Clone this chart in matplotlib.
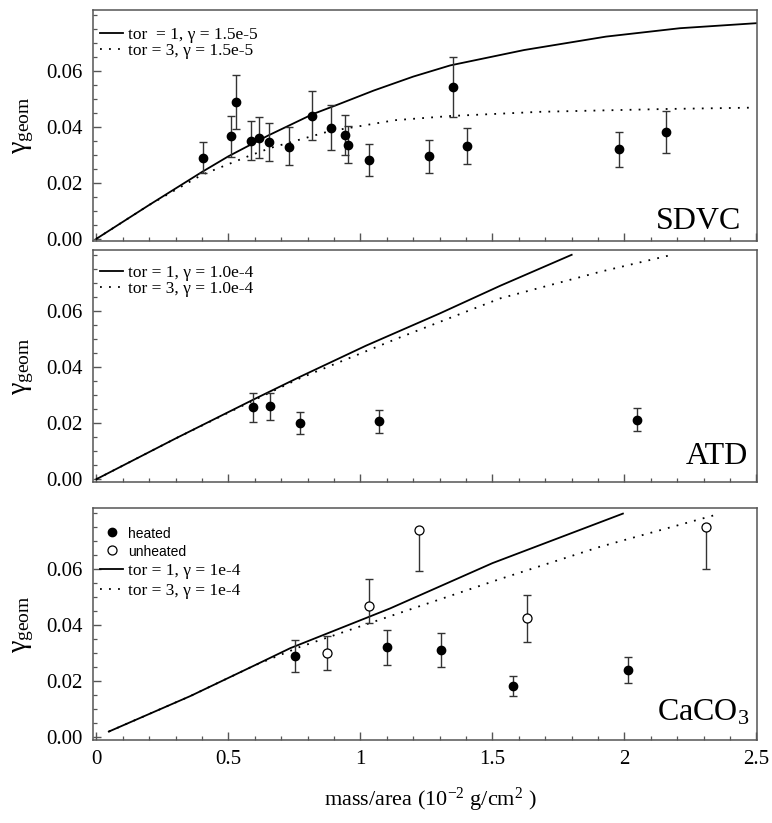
import matplotlib
matplotlib.use("Agg")
import matplotlib.pyplot as plt
import numpy as np
from matplotlib.ticker import MultipleLocator, FixedLocator

plt.rcParams['font.family'] = ['Liberation Serif', 'DejaVu Serif']
plt.rcParams['mathtext.fontset'] = 'custom'
plt.rcParams['mathtext.rm'] = 'Liberation Serif'
plt.rcParams['mathtext.it'] = 'Liberation Serif:italic'
plt.rcParams['mathtext.default'] = 'rm'

# ---------------- data ----------------
# SDVC
sdvc_x = [0.403, 0.511, 0.527, 0.585, 0.615, 0.652, 0.731, 0.816, 0.889, 0.943, 0.953, 1.033,
          1.261, 1.351, 1.404, 1.979, 2.156]
sdvc_y = [0.0290, 0.0367, 0.0489, 0.0351, 0.0361, 0.0345, 0.0329, 0.0440, 0.0396, 0.0372, 0.0335, 0.0281,
          0.0295, 0.0542, 0.0332, 0.0321, 0.0382]
sdvc_hi = [0.0347, 0.0440, 0.0584, 0.0422, 0.0434, 0.0415, 0.0398, 0.0527, 0.0477, 0.0444, 0.0403, 0.0338,
           0.0353, 0.0649, 0.0397, 0.0383, 0.0457]
sdvc_lo = [0.0234, 0.0293, 0.0391, 0.0281, 0.0290, 0.0277, 0.0264, 0.0352, 0.0317, 0.0298, 0.0270, 0.0225,
           0.0236, 0.0434, 0.0266, 0.0258, 0.0306]
sdvc_t1_x = [0, 0.2, 0.4, 0.5, 0.65, 0.82, 0.92, 1.05, 1.2, 1.34, 1.62, 1.93, 2.21, 2.5]
sdvc_t1_y = [0, 0.0121, 0.0239, 0.0295, 0.0369, 0.0446, 0.0482, 0.0530, 0.0580, 0.0620, 0.0675, 0.0723,
             0.0753, 0.0771]
sdvc_t3_x = [0, 0.2, 0.4, 0.58, 0.66, 0.88, 1.13, 1.34, 1.68, 2.15, 2.49]
sdvc_t3_y = [0, 0.0121, 0.0229, 0.0297, 0.0325, 0.0384, 0.0424, 0.0439, 0.0454, 0.0464, 0.0469]

# ATD
atd_x = [0.593, 0.658, 0.772, 1.072, 2.046]
atd_y = [0.0256, 0.0260, 0.0199, 0.0206, 0.0210]
atd_hi = [0.0306, 0.0308, 0.0239, 0.0247, 0.0253]
atd_lo = [0.0205, 0.0209, 0.0160, 0.0166, 0.0170]
atd_t1_x = [0, 0.3, 0.6, 0.772, 1.02, 1.3, 1.53, 1.8]
atd_t1_y = [0, 0.0145, 0.0286, 0.0365, 0.0475, 0.0590, 0.0689, 0.0799]
atd_t3_x = [0, 0.3, 0.6, 0.772, 1.15, 1.53, 1.91, 2.18]
atd_t3_y = [0, 0.0145, 0.0283, 0.0360, 0.0505, 0.0644, 0.0739, 0.0799]

# CaCO3
heat_x = [0.753, 1.100, 1.305, 1.577, 2.015]
heat_y = [0.0289, 0.0319, 0.0310, 0.0182, 0.0239]
heat_hi = [0.0345, 0.0381, 0.0369, 0.0218, 0.0286]
heat_lo = [0.0232, 0.0256, 0.0248, 0.0145, 0.0193]
unheat_x = [0.872, 1.034, 1.223, 1.630, 2.310]
unheat_y = [0.0299, 0.0468, 0.0740, 0.0423, 0.0748]
unheat_hi = [0.0361, 0.0562, 0.0740, 0.0505, 0.0748]
unheat_lo = [0.0238, 0.0407, 0.0592, 0.0337, 0.0600]
caco_t1_x = [0.047, 0.356, 0.6, 0.734, 1.112, 1.5, 1.994]
caco_t1_y = [0.0018, 0.0145, 0.0255, 0.0316, 0.0458, 0.0620, 0.0797]
caco_t3_x = [0.047, 0.356, 0.6, 0.772, 1.13, 1.528, 1.906, 2.351]
caco_t3_y = [0.0018, 0.0145, 0.0255, 0.0321, 0.0436, 0.0563, 0.0678, 0.0794]

x_ticks = [0, 0.5, 1, 1.5, 2, 2.5]
x_ticklabels = ['0', '0.5', '1', '1.5', '2', '2.5']
y_ticks = [0.0, 0.02, 0.04, 0.06]
y_ticklabels = ['0.00', '0.02', '0.04', '0.06']

# ---------------- figure ----------------
fig = plt.figure(figsize=(7.72, 8.23), dpi=100)
L, W = 0.1201, 0.8605
ax1 = fig.add_axes([L, 0.7075, W, 0.2803])
ax2 = fig.add_axes([L, 0.4147, W, 0.2815])
ax3 = fig.add_axes([L, 0.1009, W, 0.2815])

SPINE = '#555555'
ERRC = '#333333'
DOT = (0, (1, 4))


def style(ax, ylim, show_x):
    ax.set_xlim(-0.014, 2.502)
    ax.set_ylim(*ylim)
    ax.xaxis.set_major_locator(FixedLocator(x_ticks))
    ax.xaxis.set_minor_locator(MultipleLocator(0.1))
    ax.yaxis.set_major_locator(FixedLocator(y_ticks))
    ax.yaxis.set_minor_locator(FixedLocator([0.005, 0.01, 0.015, 0.025, 0.03, 0.035, 0.045,
                                             0.05, 0.055, 0.065, 0.07, 0.075, 0.08]))
    ax.set_yticklabels(y_ticklabels)
    if show_x:
        ax.set_xticklabels(x_ticklabels)
    else:
        ax.set_xticklabels([])
    ax.tick_params(which='both', direction='in', top=False, right=False, color=SPINE,
                   labelsize=15)
    ax.tick_params(which='major', length=6, width=1.0, pad=7)
    ax.tick_params(which='minor', length=3, width=0.9)
    for s in ax.spines.values():
        s.set_color(SPINE)
        s.set_linewidth(1.1)
    ax.set_ylabel(r'$\mathrm{γ}_{\mathrm{geom}}$', fontsize=20)
    ax.yaxis.set_label_coords(-0.085, 0.5)


def errs(y, lo, hi):
    y = np.asarray(y); lo = np.asarray(lo); hi = np.asarray(hi)
    return [y - lo, hi - y]


LEG = dict(loc='upper left', frameon=False, fontsize=12.5, handlelength=1.33,
           handletextpad=0.3, borderpad=0, borderaxespad=0)

# --- SDVC
ax = ax1
l1, = ax.plot(sdvc_t1_x, sdvc_t1_y, color='black', lw=1.3, label=r'tor  = 1, γ = 1.5e-5')
l3, = ax.plot(sdvc_t3_x, sdvc_t3_y, color='black', lw=1.3, ls=DOT, label=r'tor = 3, γ = 1.5e-5')
ax.errorbar(sdvc_x, sdvc_y, yerr=errs(sdvc_y, sdvc_lo, sdvc_hi), fmt='none', ecolor=ERRC,
            elinewidth=1.0, capsize=3, capthick=1.0)
ax.plot(sdvc_x, sdvc_y, 'o', color='black', ms=6, zorder=5)
style(ax, (-0.0007, 0.0818), False)
ax.text(0.977, 0.049, 'SDVC', transform=ax.transAxes, ha='right', va='baseline', fontsize=23)
ax.legend(handles=[l1, l3], bbox_to_anchor=(0.011, 0.926), labelspacing=0.0, **LEG)

# --- ATD
ax = ax2
l1, = ax.plot(atd_t1_x, atd_t1_y, color='black', lw=1.3, label=r'tor = 1, γ = 1.0e-4')
l3, = ax.plot(atd_t3_x, atd_t3_y, color='black', lw=1.3, ls=DOT, label=r'tor = 3, γ = 1.0e-4')
ax.errorbar(atd_x, atd_y, yerr=errs(atd_y, atd_lo, atd_hi), fmt='none', ecolor=ERRC,
            elinewidth=1.0, capsize=3, capthick=1.0)
ax.plot(atd_x, atd_y, 'o', color='black', ms=6, zorder=5)
style(ax, (-0.0009, 0.0816), False)
ax.text(0.987, 0.075, 'ATD', transform=ax.transAxes, ha='right', va='baseline', fontsize=23)
ax.legend(handles=[l1, l3], bbox_to_anchor=(0.011, 0.935), labelspacing=0.0, **LEG)

# --- CaCO3
ax = ax3
l1, = ax.plot(caco_t1_x, caco_t1_y, color='black', lw=1.3, label=r'tor = 1, γ = 1e-4')
l3, = ax.plot(caco_t3_x, caco_t3_y, color='black', lw=1.3, ls=DOT, label=r'tor = 3, γ = 1e-4')
ax.errorbar(heat_x, heat_y, yerr=errs(heat_y, heat_lo, heat_hi), fmt='none', ecolor=ERRC,
            elinewidth=1.0, capsize=3, capthick=1.0)
ax.errorbar(unheat_x, unheat_y, yerr=errs(unheat_y, unheat_lo, unheat_hi), fmt='none', ecolor=ERRC,
            elinewidth=1.0, capsize=3, capthick=1.0)
hp, = ax.plot(heat_x, heat_y, 'o', color='black', ms=6, zorder=5, label='heated')
up, = ax.plot(unheat_x, unheat_y, 'o', mfc='white', mec='black', mew=0.9, ms=6.5, zorder=5,
              label='unheated')
style(ax, (-0.0012, 0.0816), True)
ax.text(0.988, 0.086, r'CaCO$_3$', transform=ax.transAxes, ha='right', va='baseline', fontsize=23)
leg = ax.legend(handles=[hp, up, l1, l3], bbox_to_anchor=(0.011, 0.925), labelspacing=0.2, **LEG)
for t in leg.get_texts()[:2]:
    t.set_fontfamily(['Liberation Sans', 'DejaVu Sans'])
    t.set_fontsize(10)

fig.text(430 / 772, 1 - 800 / 823, r'mass/area (10$^{-2}$ g/cm$^{2}$ )', ha='center', va='center',
         fontsize=16)

fig.savefig('out.png', dpi=100)
